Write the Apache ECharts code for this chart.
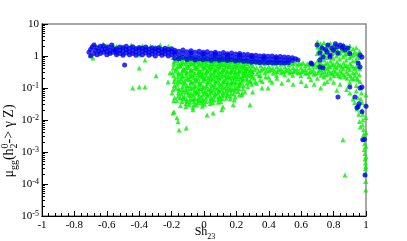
<!DOCTYPE html>
<html><head><meta charset="utf-8">
<script src="https://cdn.jsdelivr.net/npm/echarts@6/dist/echarts.min.js"></script>
<style>html,body{margin:0;padding:0;background:#fff}#c{width:407px;height:241px}</style>
</head><body><div id="c"></div>
<script>
const xTicks = [-1,-0.8,-0.6,-0.4,-0.2,0,0.2,0.4,0.6,0.8,1];
const yTickExps = [-5,-4,-3,-2,-1,0,1];
const xTitle = ['Sh','23'];
const yTitleParts = ['μ','gg','(h','0','2','-> γ Z)'];

const greenData = [
[-0.67,2.3],[-0.623,2.37],[-0.6,2.1],[-0.56,2.2],[-0.54,2.0],[-0.5,1.9],[-0.475,1.54],[-0.45,2.2],[-0.42,1.8],[-0.38,2.1],[-0.352,1.78],[-0.33,2.0],[-0.3,1.9],[-0.27,2.2],[-0.25,1.7],[-0.22,2.0],[-0.7,1.1],[-0.65,1.7],[-0.58,1.3],[-0.5,1.2],[-0.685,0.87],[-0.395,1.07],[-0.364,0.75],[-0.40,0.42],[-0.296,0.24],[-0.44,0.1],[-0.40,0.107],[-0.364,0.107],[-0.21,0.3],[-0.19,0.42],
[-0.191,0.0166],[-0.167,0.0117],[-0.16,0.0088],[-0.154,0.0049],[-0.11,0.0056],[-0.068,0.021],[0.019,0.0143],[0.056,0.0166],[0.11,0.021],[0.117,0.026],[0.18,0.03],[-0.222,0.155],[-0.197,0.07],[-0.185,0.018],
[-0.192,0.9],[-0.186,0.55],[-0.195,0.3],[-0.184,0.16],[-0.19,0.09],[-0.181,0.05],
[-0.168,0.8],[-0.16,0.62],[-0.171,0.4],[-0.162,0.22],[-0.166,0.13],[-0.158,0.07],[-0.169,0.04],
[-0.142,0.95],[-0.136,0.7],[-0.147,0.48],[-0.138,0.3],[-0.144,0.19],[-0.133,0.11],[-0.141,0.065],[-0.137,0.038],[-0.146,0.028],
[-0.117,0.85],[-0.111,0.58],[-0.12,0.36],[-0.109,0.25],[-0.118,0.15],[-0.113,0.09],[-0.121,0.055],[-0.112,0.032],
[-0.093,0.92],[-0.086,0.66],[-0.095,0.44],[-0.084,0.28],[-0.091,0.18],[-0.088,0.12],[-0.096,0.075],[-0.085,0.046],[-0.092,0.03],
[-0.067,0.78],[-0.06,0.52],[-0.07,0.34],[-0.062,0.21],[-0.068,0.14],[-0.058,0.085],[-0.066,0.06],[-0.061,0.037],[-0.069,0.025],
[-0.042,0.88],[-0.036,0.6],[-0.045,0.41],[-0.037,0.26],[-0.043,0.17],[-0.034,0.1],[-0.041,0.068],[-0.038,0.042],[-0.046,0.03],
[-0.017,0.75],[-0.011,0.5],[-0.02,0.32],[-0.012,0.22],[-0.018,0.13],[-0.009,0.08],[-0.016,0.052],[-0.013,0.034],
[0.008,0.9],[0.014,0.63],[0.005,0.43],[0.013,0.29],[0.007,0.19],[0.016,0.12],[0.009,0.078],[0.012,0.048],[0.004,0.031],
[0.033,0.8],[0.039,0.55],[0.03,0.37],[0.038,0.24],[0.032,0.16],[0.041,0.1],[0.034,0.064],[0.037,0.04],
[0.058,0.93],[0.064,0.68],[0.055,0.46],[0.063,0.31],[0.057,0.2],[0.066,0.13],[0.059,0.085],[0.062,0.055],[0.054,0.035],
[0.083,0.82],[0.089,0.57],[0.08,0.39],[0.088,0.26],[0.082,0.17],[0.091,0.11],[0.084,0.07],[0.087,0.045],
[0.108,0.95],[0.114,0.7],[0.105,0.48],[0.113,0.33],[0.107,0.22],[0.116,0.14],[0.109,0.09],[0.112,0.058],[0.104,0.038],
[0.133,0.84],[0.139,0.6],[0.13,0.4],[0.138,0.27],[0.132,0.18],[0.141,0.12],[0.134,0.075],[0.137,0.048],
[0.158,0.9],[0.164,0.65],[0.155,0.45],[0.163,0.3],[0.157,0.2],[0.166,0.13],[0.159,0.085],[0.162,0.055],
[0.183,0.8],[0.189,0.56],[0.18,0.38],[0.188,0.25],[0.182,0.16],[0.191,0.1],[0.184,0.065],[0.187,0.042],
[0.208,0.88],[0.214,0.62],[0.205,0.42],[0.213,0.28],[0.207,0.19],[0.216,0.12],[0.209,0.078],
[0.233,0.78],[0.239,0.55],[0.23,0.36],[0.238,0.24],[0.232,0.15],[0.241,0.095],[0.234,0.06],
[-0.178,0.72],[-0.175,0.34],[-0.18,0.19],[-0.174,0.1],
[-0.153,0.83],[-0.15,0.52],[-0.155,0.27],[-0.149,0.15],[-0.152,0.085],[-0.148,0.05],
[-0.128,0.6],[-0.125,0.4],[-0.13,0.22],[-0.124,0.13],[-0.127,0.075],[-0.122,0.045],
[-0.103,0.75],[-0.1,0.5],[-0.105,0.32],[-0.099,0.2],[-0.102,0.1],[-0.098,0.06],[-0.104,0.038],
[-0.078,0.85],[-0.075,0.58],[-0.08,0.38],[-0.074,0.24],[-0.077,0.16],[-0.072,0.1],[-0.079,0.07],[-0.073,0.043],
[-0.053,0.68],[-0.05,0.45],[-0.055,0.3],[-0.049,0.19],[-0.052,0.12],[-0.048,0.078],[-0.054,0.048],
[-0.028,0.8],[-0.025,0.55],[-0.03,0.36],[-0.024,0.24],[-0.027,0.15],[-0.022,0.095],[-0.029,0.06],[-0.026,0.04],
[-0.003,0.66],[0.0,0.46],[-0.005,0.3],[0.001,0.2],[-0.002,0.11],[0.003,0.07],[-0.004,0.043],
[0.022,0.72],[0.025,0.5],[0.02,0.33],[0.026,0.21],[0.023,0.14],[0.028,0.088],[0.021,0.056],
[0.047,0.86],[0.05,0.6],[0.045,0.41],[0.051,0.27],[0.048,0.18],[0.053,0.115],[0.046,0.072],[0.049,0.046],
[0.072,0.74],[0.075,0.52],[0.07,0.35],[0.076,0.23],[0.073,0.15],[0.078,0.095],[0.071,0.06],
[0.097,0.88],[0.1,0.62],[0.095,0.43],[0.101,0.29],[0.098,0.19],[0.103,0.125],[0.096,0.078],[0.099,0.05],
[0.122,0.76],[0.125,0.54],[0.12,0.36],[0.126,0.24],[0.123,0.16],[0.128,0.1],[0.121,0.062],
[0.147,0.72],[0.15,0.5],[0.145,0.34],[0.151,0.23],[0.148,0.15],[0.153,0.1],[0.146,0.066],
[0.172,0.7],[0.175,0.48],[0.17,0.33],[0.176,0.21],[0.173,0.14],[0.178,0.09],
[0.197,0.72],[0.2,0.5],[0.195,0.33],[0.201,0.23],[0.198,0.15],[0.203,0.1],
[0.222,0.68],[0.225,0.47],[0.22,0.32],[0.226,0.2],[0.223,0.13],
[-0.185,0.65],[-0.188,0.24],[-0.183,0.12],[-0.187,0.04],
[-0.16,0.95],[-0.163,0.46],[-0.158,0.3],[-0.161,0.17],[-0.157,0.095],[-0.16,0.055],
[-0.135,0.82],[-0.138,0.56],[-0.133,0.36],[-0.136,0.24],[-0.131,0.16],[-0.134,0.09],[-0.132,0.05],
[-0.11,0.68],[-0.113,0.44],[-0.108,0.3],[-0.111,0.19],[-0.106,0.12],[-0.109,0.075],[-0.107,0.042],[-0.112,0.026],
[-0.085,0.78],[-0.088,0.54],[-0.083,0.35],[-0.086,0.23],[-0.081,0.15],[-0.084,0.095],[-0.082,0.058],[-0.087,0.036],
[-0.06,0.92],[-0.063,0.62],[-0.058,0.42],[-0.061,0.27],[-0.056,0.17],[-0.059,0.11],[-0.057,0.07],[-0.062,0.045],[-0.06,0.03],
[-0.035,0.7],[-0.038,0.48],[-0.033,0.31],[-0.036,0.2],[-0.031,0.13],[-0.034,0.08],[-0.032,0.05],[-0.037,0.035],
[-0.01,0.88],[-0.013,0.6],[-0.008,0.4],[-0.011,0.26],[-0.006,0.17],[-0.009,0.1],[-0.007,0.062],[-0.012,0.04],[-0.01,0.027],
[0.015,0.78],[0.012,0.54],[0.017,0.36],[0.014,0.24],[0.019,0.16],[0.016,0.1],[0.018,0.066],[0.013,0.038],
[0.04,0.68],[0.037,0.46],[0.042,0.3],[0.039,0.2],[0.044,0.13],[0.041,0.08],[0.043,0.05],[0.038,0.032],
[0.065,0.82],[0.062,0.56],[0.067,0.38],[0.064,0.25],[0.069,0.165],[0.066,0.105],[0.068,0.068],[0.063,0.042],
[0.09,0.7],[0.087,0.48],[0.092,0.32],[0.089,0.21],[0.094,0.14],[0.091,0.085],[0.093,0.055],[0.088,0.036],
[0.115,0.82],[0.112,0.56],[0.117,0.38],[0.114,0.26],[0.119,0.17],[0.116,0.11],[0.118,0.072],[0.113,0.046],
[0.14,0.7],[0.137,0.48],[0.142,0.32],[0.139,0.21],[0.144,0.14],[0.141,0.09],[0.143,0.058],
[0.165,0.78],[0.162,0.54],[0.167,0.36],[0.164,0.24],[0.169,0.16],[0.166,0.1],[0.168,0.068],[0.163,0.045],
[0.19,0.66],[0.187,0.45],[0.192,0.3],[0.189,0.2],[0.194,0.13],[0.191,0.08],[0.193,0.052],
[0.215,0.76],[0.212,0.52],[0.217,0.35],[0.214,0.23],[0.219,0.15],[0.216,0.095],[0.218,0.06],
[0.24,0.66],[0.237,0.45],[0.242,0.3],[0.239,0.2],[0.244,0.12],
[0.26,0.58],[0.265,0.4],[0.262,0.27],[0.268,0.18],[0.27,0.11],[0.29,0.52],[0.288,0.36],[0.292,0.25],[0.295,0.13],
[0.248,0.42],[0.252,0.3],[0.26,0.2],[0.265,0.14],[0.275,0.24],[0.285,0.17],[0.3,0.28],[0.31,0.2],[0.325,0.14],[0.34,0.24],[0.36,0.16],[0.38,0.22],[0.42,0.15],[0.45,0.2],[0.48,0.14],[0.52,0.18],[0.55,0.13],[0.6,0.16],[0.63,0.12],[0.66,0.18],
[0.24,0.178],[0.284,0.155],[0.315,0.155],[0.346,0.178],[0.407,0.178],[0.395,0.1],[0.358,0.1],[0.30,0.075],[0.253,0.075],[0.284,0.03],[0.235,0.07],
[0.25,0.7],[0.25,0.5],[0.255,0.35],[0.25,0.25],
[0.275,0.62],[0.275,0.45],[0.278,0.3],
[0.3,0.68],[0.302,0.48],[0.3,0.33],[0.298,0.22],
[0.325,0.6],[0.325,0.42],[0.327,0.28],
[0.35,0.66],[0.35,0.5],[0.352,0.36],[0.348,0.24],
[0.375,0.58],[0.375,0.43],[0.377,0.3],
[0.4,0.64],[0.4,0.47],[0.402,0.34],[0.398,0.22],
[0.425,0.56],[0.425,0.41],[0.427,0.29],
[0.45,0.62],[0.45,0.46],[0.452,0.33],[0.448,0.25],
[0.475,0.55],[0.475,0.4],[0.477,0.3],
[0.5,0.6],[0.5,0.45],[0.502,0.34],[0.498,0.26],
[0.525,0.53],[0.525,0.4],[0.527,0.3],
[0.55,0.58],[0.55,0.44],[0.552,0.33],[0.548,0.25],
[0.575,0.52],[0.575,0.39],[0.577,0.3],
[0.6,0.56],[0.6,0.43],[0.602,0.32],[0.598,0.24],
[0.625,0.5],[0.625,0.38],[0.627,0.29],
[0.65,0.55],[0.65,0.42],[0.652,0.31],[0.648,0.23],
[0.675,0.48],[0.675,0.36],[0.677,0.27],
[0.262,0.78],[0.287,0.7],[0.312,0.74],[0.337,0.68],[0.362,0.72],[0.387,0.66],[0.412,0.7],[0.437,0.64],[0.462,0.68],[0.487,0.62],[0.512,0.66],[0.537,0.6],[0.562,0.64],[0.587,0.58],[0.612,0.62],[0.637,0.57],[0.662,0.6],[0.687,0.55],
[0.262,0.4],[0.287,0.36],[0.312,0.38],[0.337,0.34],[0.362,0.4],[0.387,0.35],[0.412,0.38],[0.437,0.34],[0.462,0.37],[0.487,0.33],[0.512,0.36],[0.537,0.32],[0.562,0.35],[0.587,0.31],[0.612,0.34],[0.637,0.3],[0.662,0.33],[0.687,0.29],
[0.71,0.55],[0.73,0.5],[0.75,0.56],[0.77,0.48],[0.79,0.55],[0.81,0.47],[0.83,0.53],[0.85,0.45],[0.87,0.5],[0.89,0.43],[0.91,0.5],[0.93,0.4],[0.95,0.45],
[0.7,2.8],[0.702,1.9],[0.698,1.2],[0.701,0.7],[0.699,0.45],[0.703,0.3],[0.7,0.2],
[0.72,2.4],[0.722,1.5],[0.718,0.95],[0.721,0.6],[0.719,0.38],[0.723,0.25],
[0.74,2.6],[0.742,1.7],[0.738,1.1],[0.741,0.75],[0.739,0.5],[0.743,0.33],[0.74,0.22],[0.742,0.14],
[0.76,2.2],[0.762,1.4],[0.758,0.9],[0.761,0.6],[0.759,0.4],[0.763,0.27],
[0.78,2.5],[0.782,1.6],[0.778,1.05],[0.781,0.7],[0.779,0.46],[0.783,0.3],[0.78,0.2],
[0.8,2.1],[0.802,1.3],[0.798,0.85],[0.801,0.55],[0.799,0.36],[0.803,0.24],[0.8,0.15],
[0.82,2.4],[0.822,1.5],[0.818,1.0],[0.821,0.65],[0.819,0.42],[0.823,0.28],
[0.84,2.0],[0.842,1.25],[0.838,0.8],[0.841,0.52],[0.839,0.34],[0.843,0.22],[0.84,0.13],
[0.86,2.3],[0.862,1.45],[0.858,0.95],[0.861,0.6],[0.859,0.4],[0.863,0.26],
[0.88,1.9],[0.882,1.2],[0.878,0.75],[0.881,0.5],[0.879,0.32],[0.883,0.2],
[0.9,2.1],[0.902,1.35],[0.898,0.9],[0.901,0.58],[0.899,0.38],[0.903,0.24],[0.9,0.15],
[0.92,1.7],[0.922,1.1],[0.918,0.7],[0.921,0.45],[0.919,0.3],[0.923,0.19],
[0.94,1.8],[0.942,1.15],[0.938,0.75],[0.941,0.48],[0.939,0.31],[0.943,0.2],[0.94,0.12],
[0.96,1.4],[0.962,0.9],[0.958,0.6],[0.961,0.4],[0.959,0.26],[0.963,0.16],
[0.71,1.5],[0.73,2.0],[0.75,1.25],[0.77,1.8],[0.79,1.2],[0.81,1.75],[0.83,1.15],[0.85,1.6],[0.87,1.1],[0.89,1.55],[0.91,1.0],[0.93,1.3],[0.95,0.95],
[0.71,0.35],[0.73,0.3],[0.75,0.26],[0.77,0.34],[0.79,0.28],[0.81,0.32],[0.83,0.24],[0.85,0.3],[0.87,0.22],[0.89,0.28],[0.91,0.2],[0.93,0.25],[0.95,0.18],
[0.68,0.13],[0.72,0.1],[0.82,0.085],[0.76,0.16],
[0.97,0.1],[0.972,0.07],[0.968,0.045],[0.975,0.035],[0.976,0.02],[0.98,0.015],[0.981,0.01],[0.979,0.007],[0.985,0.005],[0.986,0.0035],
[0.99,0.0025],[0.991,0.0018],[0.989,0.0012],[0.993,0.0009],[0.994,0.0006],[0.996,0.00045],[0.997,0.0003],[0.995,0.0002],[0.998,0.00012],
[1.0,0.06],[1.0,0.03],[0.999,0.012],[1.0,0.004],[0.999,0.0015],[1.0,0.0007],[0.999,0.00035],[0.998,0.000065],
[0.93,0.035],[0.945,0.022],[0.955,0.015],[0.96,0.009],[0.965,0.006],[0.95,0.05],[0.94,0.08],
[0.858,0.0024],[0.87,0.00019],[0.9,0.07],[0.92,0.045],[0.88,0.09]
];

const blueData = [
[-0.71,1.3],[-0.70,1.0],[-0.70,1.6],[-0.69,1.9],[-0.68,1.2],[-0.68,2.2],[-0.67,1.5],[-0.66,1.1],[-0.66,1.8],[-0.65,1.4],[-0.64,2.0],[-0.64,1.2],[-0.63,1.6],[-0.62,1.3],[-0.62,2.1],[-0.61,1.7],[-0.60,1.4],[-0.60,1.1],[-0.59,1.9],[-0.58,1.5],[-0.58,1.2],[-0.57,2.2],[-0.56,1.7],[-0.56,1.3],[-0.55,1.5],
[-0.54,1.3],[-0.54,1.7],[-0.54,1.1],[-0.52,1.5],[-0.52,1.9],[-0.52,1.2],[-0.50,1.4],[-0.50,1.8],[-0.50,1.05],[-0.48,1.6],[-0.48,1.25],[-0.48,2.0],
[-0.46,1.35],[-0.46,1.75],[-0.46,1.1],[-0.44,1.5],[-0.44,1.95],[-0.44,1.2],[-0.42,1.3],[-0.42,1.7],[-0.42,1.05],[-0.40,1.6],[-0.40,1.2],[-0.40,1.85],
[-0.38,1.4],[-0.38,1.75],[-0.38,1.1],[-0.36,1.55],[-0.36,1.25],[-0.36,1.9],[-0.34,1.3],[-0.34,1.65],[-0.34,1.05],[-0.32,1.45],[-0.32,1.8],[-0.32,1.15],
[-0.30,1.35],[-0.30,1.7],[-0.30,1.0],[-0.28,1.5],[-0.28,1.2],[-0.28,1.8],[-0.26,1.3],[-0.26,1.6],[-0.26,1.05],[-0.24,1.45],[-0.24,1.15],[-0.24,1.75],
[-0.22,1.3],[-0.22,1.6],[-0.22,1.0],[-0.20,1.4],[-0.20,1.1],[-0.20,1.7],[-0.49,0.52],
[-0.18,1.5],[-0.18,1.15],[-0.18,0.85],[-0.18,1.3],[-0.155,1.4],[-0.155,1.05],[-0.155,0.8],[-0.13,1.55],[-0.13,1.2],[-0.13,0.9],
[-0.105,1.35],[-0.105,1.0],[-0.105,0.78],[-0.08,1.45],[-0.08,1.1],[-0.08,0.85],[-0.08,1.25],[-0.055,1.3],[-0.055,0.95],[-0.055,0.75],
[-0.03,1.4],[-0.03,1.1],[-0.03,0.82],[-0.005,1.3],[-0.005,1.0],[-0.005,0.77],[-0.005,1.15],[0.02,1.35],[0.02,1.05],[0.02,0.8],
[0.045,1.25],[0.045,0.95],[0.045,0.74],[0.07,1.3],[0.07,1.02],[0.07,0.8],[0.07,1.15],[0.095,1.2],[0.095,0.92],[0.095,0.73],
[0.12,1.28],[0.12,1.0],[0.12,0.78],[0.145,1.18],[0.145,0.9],[0.145,0.72],[0.145,1.05],[0.17,1.25],[0.17,0.96],[0.17,0.76],
[0.195,1.15],[0.195,0.88],[0.195,0.7],[0.22,1.2],[0.22,0.93],[0.22,0.74],[0.22,1.05],[0.245,1.12],[0.245,0.86],[0.245,0.68],
[0.27,1.12],[0.27,0.88],[0.27,0.68],[0.295,1.05],[0.295,0.82],[0.295,0.64],[0.295,0.94],[0.32,1.05],[0.32,0.82],[0.32,0.65],
[0.345,1.0],[0.345,0.78],[0.345,0.62],[0.37,1.02],[0.37,0.8],[0.37,0.63],[0.37,0.9],[0.395,0.98],[0.395,0.77],[0.395,0.61],
[0.42,1.0],[0.42,0.78],[0.42,0.62],[0.445,0.95],[0.445,0.75],[0.445,0.6],[0.445,0.86],[0.47,0.96],[0.47,0.76],[0.47,0.61],
[0.495,0.93],[0.495,0.74],[0.495,0.6],[0.52,0.92],[0.52,0.74],[0.52,0.62],[0.545,0.88],[0.545,0.72],[0.565,0.82],
[0.58,0.75],[0.667,0.56],[0.716,0.45],[0.735,0.42],
[0.698,2.2],[0.728,1.78],[0.716,1.24],[0.735,0.93],[0.759,1.33],[0.765,2.2],[0.778,1.07],[0.79,1.78],[0.821,1.9],[0.827,1.24],[0.84,2.2],[0.852,1.78],[0.87,1.54],[0.889,1.78],[0.716,0.75],[0.778,0.93],[0.951,0.6],[0.975,0.93],[0.963,1.07],[0.66,0.6],[0.8,1.5],[0.75,1.6],[0.81,2.4],[0.86,2.0],[0.9,1.2],
[0.90,0.107],[0.932,0.052],[0.951,0.026],[0.975,0.018],[0.827,0.052],[0.98,0.0024],[0.994,0.00019],[1.0,0.027],[0.975,0.107],[0.944,0.024],[0.957,0.032],[0.963,0.1],[0.99,0.0025],[0.963,0.45]
];

const FONT = '"Liberation Serif","Times New Roman",serif';
const chart = echarts.init(document.getElementById('c'), null, {renderer:'canvas'});

const mc = document.createElement('canvas').getContext('2d');
function tw(t, s){ mc.font = s + 'px ' + FONT; return mc.measureText(t).width; }

const TS = 14, SS = 10;
const pieces = [];
let cx = 0;
pieces.push({t:yTitleParts[0], s:TS, x:cx, dy:0}); cx += tw(yTitleParts[0], TS);
pieces.push({t:yTitleParts[1], s:SS, x:cx, dy:3}); cx += tw(yTitleParts[1], SS);
pieces.push({t:yTitleParts[2], s:TS, x:cx, dy:0}); cx += tw(yTitleParts[2], TS);
pieces.push({t:yTitleParts[3], s:SS, x:cx, dy:-6});
pieces.push({t:yTitleParts[4], s:SS, x:cx, dy:3}); cx += Math.max(tw(yTitleParts[3],SS), tw(yTitleParts[4],SS));
pieces.push({t:yTitleParts[5], s:TS, x:cx, dy:0}); cx += tw(yTitleParts[5], TS);
const total = cx;
const yTitleChildren = pieces.map(p => ({
  type:'text', x: p.x - total/2, y: p.dy + 5,
  style:{text:p.t, font: p.s + 'px ' + FONT, fill:'#000', verticalAlign:'bottom'}
}));

const XS = 12, XSS = 8;
const xw = tw(xTitle[0], XS) + tw(xTitle[1], XSS);

const minorLog = [];
for (let e = -5; e < 1; e++) for (let m = 2; m <= 9; m++) minorLog.push(m * Math.pow(10, e));

chart.setOption({
  animation:false,
  backgroundColor:'#fff',
  grid:{left:42, right:41, top:24, bottom:25, show:true, borderColor:'#8c8c8c', borderWidth:1.5, backgroundColor:'transparent'},
  xAxis:{
    type:'value', min:-1, max:1, interval:0.2,
    axisLine:{show:true, onZero:false, lineStyle:{color:'#000', width:1}},
    axisTick:{show:true, inside:true, length:5, lineStyle:{color:'#000'}},
    minorTick:{show:true, splitNumber:5, length:3, lineStyle:{color:'#000'}},
    splitLine:{show:false},
    axisLabel:{color:'#000', fontFamily:FONT, fontSize:11, margin:4,
      formatter: v => { const r = Math.round(v*10)/10; return xTicks.indexOf(r) >= 0 ? String(r) : ''; }}
  },
  yAxis:[{
    type:'log', logBase:10, min:1e-5, max:10,
    axisLine:{show:true, onZero:false, lineStyle:{color:'#000', width:1}},
    axisTick:{show:true, inside:true, length:6, lineStyle:{color:'#000'}},
    splitLine:{show:false},
    axisLabel:{color:'#000', fontFamily:FONT, fontSize:11, margin:3,
      formatter: v => {
        const e = Math.round(Math.log10(v));
        if (yTickExps.indexOf(e) < 0) return '';
        if (e === 0) return '{p|1}';
        if (e === 1) return '{p|10}';
        return '{b|10}{s|' + e + '}';
      },
      rich:{
        p:{fontFamily:FONT, fontSize:11, color:'#000', lineHeight:12},
        b:{fontFamily:FONT, fontSize:11, color:'#000', lineHeight:12, verticalAlign:'bottom', padding:[3,0,0,0]},
        s:{fontFamily:FONT, fontSize:8, color:'#000', lineHeight:8, verticalAlign:'top'}
      }
    }
  },{
    type:'log', logBase:10, min:1e-5, max:10, position:'left',
    axisLine:{show:false, onZero:false},
    axisLabel:{show:false},
    splitLine:{show:false},
    axisTick:{show:true, inside:true, length:3, customValues:minorLog, lineStyle:{color:'#000'}}
  }],
  graphic:[
    {type:'group', x:11, y:141, rotation:Math.PI/2, children:yTitleChildren},
    {type:'text', x:205 - xw/2, y:238, style:{text:xTitle[0], font: XS+'px '+FONT, fill:'#000', verticalAlign:'bottom'}},
    {type:'text', x:205 - xw/2 + tw(xTitle[0],XS), y:241, style:{text:xTitle[1], font: XSS+'px '+FONT, fill:'#000', verticalAlign:'bottom'}}
  ],
  series:[
    {type:'scatter', data:greenData, symbol:'triangle', symbolSize:5, itemStyle:{color:'#00f000'}, silent:true},
    {type:'scatter', data:blueData, symbol:'circle', symbolSize:5, itemStyle:{color:'#0000f0'}, silent:true}
  ]
});
</script>
</body></html>
